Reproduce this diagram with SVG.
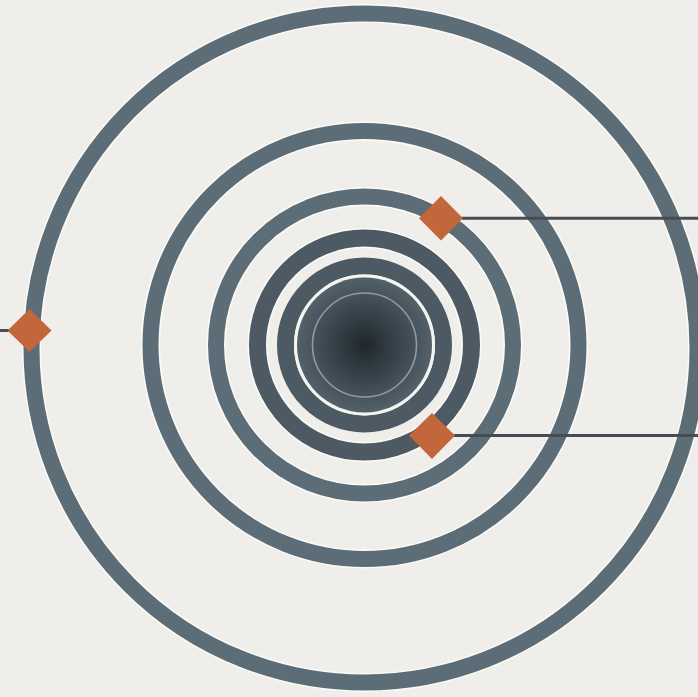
<svg xmlns="http://www.w3.org/2000/svg" width="698" height="697" viewBox="0 0 698 697">
  <defs>
    <radialGradient id="core" cx="364.5" cy="345" r="70" gradientUnits="userSpaceOnUse">
      <stop offset="0" stop-color="#1f272c"/>
      <stop offset="0.45" stop-color="#36424a"/>
      <stop offset="1" stop-color="#56636c"/>
    </radialGradient>
  </defs>
  <style>
    .halo { fill: none; stroke: #fbfbf8; }
    .ring { fill: none; stroke: #5d6d78; stroke-width: 16; }
    .ring-dark { fill: none; stroke: #4d5a63; stroke-width: 17; }
    .diamond { fill: #c2663b; }
    .link { stroke: #464c52; stroke-width: 3; fill: none; }
  </style>
  <rect width="698" height="697" fill="#efeeea"/>

  <g id="rings">
    <ellipse class="halo" cx="364.5" cy="348" rx="333" ry="334.5" stroke-width="19"/>
    <ellipse class="ring" cx="364.5" cy="348" rx="333" ry="334.5"/>
    <circle class="halo" cx="364.5" cy="345" r="214" stroke-width="19"/>
    <circle class="ring" cx="364.5" cy="345" r="214"/>
    <circle class="halo" cx="364.5" cy="345" r="148.5" stroke-width="19"/>
    <circle class="ring" cx="364.5" cy="345" r="148.5" stroke="#56666f"/>
    <circle class="halo" cx="364.5" cy="345" r="107" stroke-width="20"/>
    <circle class="ring-dark" cx="364.5" cy="345" r="107"/>
    <circle class="ring-dark" cx="364.5" cy="345" r="79" stroke="#48545c"/>
    <circle cx="364.5" cy="345" r="69" fill="none" stroke="#f4f4f1" stroke-width="3"/>
    <circle cx="364.5" cy="345" r="67.5" fill="url(#core)"/>
    <circle cx="364.5" cy="345" r="52" fill="none" stroke="#8f9ba2" stroke-width="1.6"/>
  </g>

  <g id="connectors">
    <line class="link" x1="462" y1="218.3" x2="698" y2="218.3"/>
    <line class="link" x1="453" y1="435.5" x2="698" y2="435.5"/>
    <line class="link" x1="0" y1="330.5" x2="10" y2="330.5"/>
  </g>

  <g id="node-upper">
    <polygon class="diamond" points="441,196 463,218.3 441,240.5 419,218.3"/>
  </g>
  <g id="node-lower">
    <polygon class="diamond" points="432,413 455,435.5 432,459 409,435.5"/>
  </g>
  <g id="node-left">
    <polygon class="diamond" points="29.5,309 51.5,330.5 29.5,352 7.5,330.5"/>
  </g>
</svg>
